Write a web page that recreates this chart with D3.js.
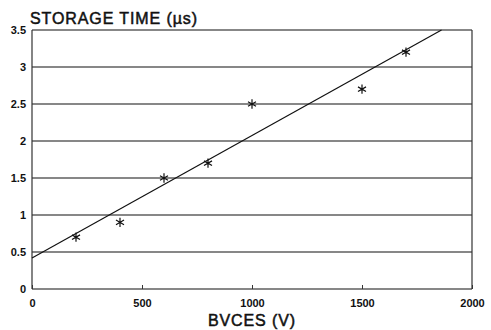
<!DOCTYPE html>
<html>
<head>
<meta charset="utf-8">
<script src="https://cdn.jsdelivr.net/npm/d3@7"></script>
<style>
  body { margin: 0; background: #fff; }
  text { font-family: "Liberation Sans", Arial, sans-serif; fill: #111; }
</style>
</head>
<body>
<svg id="chart" width="491" height="330"></svg>
<script>
    "use strict";
    // measured points
    var bvces = [200, 400, 600, 800, 1000, 1500, 1700];
    var storageTime = [0.7, 0.9, 1.5, 1.7, 2.5, 2.7, 3.2];
    var xTicks = [0, 500, 1000, 1500, 2000];
    var yTicks = [0, 0.5, 1, 1.5, 2, 2.5, 3, 3.5];
    var xTickLabels = ["0", "500", "1000", "1500", "2000"];
    var yTickLabels = ["0", "0.5", "1", "1.5", "2", "2.5", "3", "3.5"];

    var margin = { left: 32, right: 19, top: 30, bottom: 41 };
    var width = 491 - margin.left - margin.right;
    var height = 330 - margin.top - margin.bottom;

    var svg = d3.select("#chart");
    var g = svg.append("g").attr("transform", "translate(" + margin.left + "," + margin.top + ")");

    var x = d3.scaleLinear().domain([0, 2000]).range([0, width]);
    var y = d3.scaleLinear().domain([0, 3.5]).range([height, 0]);

    // least squares fit through the points
    var mx = d3.mean(bvces), my = d3.mean(storageTime);
    var sxy = d3.sum(bvces, function (v, i) { return (v - mx) * (storageTime[i] - my); });
    var sxx = d3.sum(bvces, function (v) { return (v - mx) * (v - mx); });
    var slope = sxy / sxx;
    var intercept = my - slope * mx;
    var xEnd = (3.5 - intercept) / slope;

    // grid lines
    g.selectAll("line.grid")
        .data(yTicks)
        .enter().append("line")
        .attr("class", "grid")
        .attr("x1", 0).attr("x2", width)
        .attr("y1", function (d) { return y(d); })
        .attr("y2", function (d) { return y(d); })
        .attr("stroke", "#111")
        .attr("stroke-width", 1.2);

    // frame
    g.append("line").attr("x1", 0).attr("x2", 0).attr("y1", 0).attr("y2", height)
        .attr("stroke", "#333").attr("stroke-width", 1.2);
    g.append("line").attr("x1", width).attr("x2", width).attr("y1", 0).attr("y2", height)
        .attr("stroke", "#333").attr("stroke-width", 1.2);

    // axes
    var xAxis = d3.axisBottom(x).tickValues(xTicks)
        .tickFormat(function (d, i) { return xTickLabels[i]; })
        .tickSize(-4).tickPadding(10);
    var gx = g.append("g").attr("transform", "translate(0," + height + ")").call(xAxis);
    gx.select(".domain").remove();
    gx.selectAll(".tick line").attr("stroke", "#333");
    gx.selectAll(".tick text").attr("font-size", 11).attr("font-weight", "bold").attr("fill", "#111");

    var yAxis = d3.axisLeft(y).tickValues(yTicks)
        .tickFormat(function (d, i) { return yTickLabels[i]; })
        .tickSize(0).tickPadding(6);
    var gy = g.append("g").call(yAxis);
    gy.select(".domain").remove();
    gy.selectAll(".tick text").attr("font-size", 11).attr("font-weight", "bold").attr("fill", "#111");

    // fit line
    g.append("line")
        .attr("x1", x(0)).attr("y1", y(intercept))
        .attr("x2", x(xEnd)).attr("y2", y(3.5))
        .attr("stroke", "#111").attr("stroke-width", 1.2);

    // asterisk markers
    var star = d3.symbol().type(d3.symbolAsterisk).size(60);
    g.selectAll("path.pt")
        .data(bvces)
        .enter().append("path")
        .attr("class", "pt")
        .attr("d", star)
        .attr("transform", function (d, i) { return "translate(" + x(d) + "," + y(storageTime[i]) + ")"; })
        .attr("fill", "none")
        .attr("stroke", "#111")
        .attr("stroke-width", 1.2);

    // titles
    svg.append("text").attr("x", 30).attr("y", 24)
        .attr("font-size", 16)
        .attr("stroke", "#111").attr("stroke-width", 0.5)
        .attr("letter-spacing", 0.9)
        .text("STORAGE TIME (\u00b5s)");
    svg.append("text").attr("x", margin.left + width / 2).attr("y", 326)
        .attr("text-anchor", "middle")
        .attr("font-size", 16)
        .attr("stroke", "#111").attr("stroke-width", 0.5)
        .attr("letter-spacing", 0.9)
        .text("BVCES (V)");
</script>
</body>
</html>
